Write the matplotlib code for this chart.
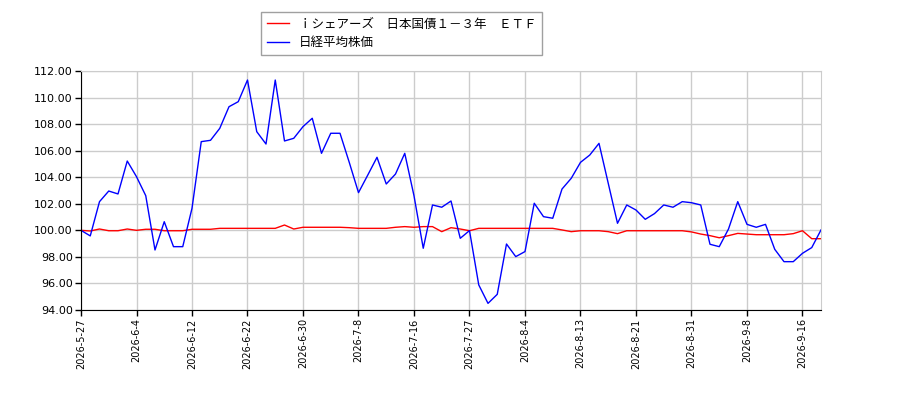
import matplotlib
matplotlib.use("Agg")
import matplotlib.pyplot as plt

dates = ["2026-5-27", "2026-6-4", "2026-6-12", "2026-6-22", "2026-6-30", "2026-7-8",
         "2026-7-16", "2026-7-27", "2026-8-4", "2026-8-13", "2026-8-21", "2026-8-31",
         "2026-9-8", "2026-9-16"]
tick_step = 6

etf = [100.0, 99.95, 100.1, 99.97, 99.97, 100.1, 100.0, 100.08, 100.08, 99.97,
       99.97, 99.97, 100.08, 100.08, 100.08, 100.15, 100.15, 100.15, 100.15, 100.15,
       100.15, 100.15, 100.4, 100.1, 100.23, 100.23, 100.23, 100.23, 100.23, 100.2,
       100.15, 100.15, 100.15, 100.15, 100.23, 100.28, 100.23, 100.28, 100.28, 99.9,
       100.2, 100.1, 99.97, 100.15, 100.15, 100.15, 100.15, 100.15, 100.15, 100.15,
       100.15, 100.15, 100.03, 99.9, 99.97, 99.97, 99.97, 99.9, 99.75, 99.97,
       99.97, 99.97, 99.97, 99.97, 99.97, 99.97, 99.88, 99.72, 99.6, 99.44,
       99.6, 99.77, 99.72, 99.67, 99.67, 99.67, 99.67, 99.75, 99.97, 99.37,
       99.37]

nikkei = [100.0, 99.58, 102.16, 102.96, 102.74, 105.22, 104.04, 102.61, 98.52, 100.65,
          98.77, 98.77, 101.66, 106.68, 106.78, 107.68, 109.31, 109.69, 111.32, 107.43,
          106.5, 111.32, 106.73, 106.93, 107.81, 108.44, 105.8, 107.31, 107.31, 105.12,
          102.84, 104.16, 105.5, 103.49, 104.24, 105.8, 102.6, 98.65, 101.91, 101.74,
          102.21, 99.4, 99.98, 95.89, 94.5, 95.18, 98.97, 98.02, 98.4, 102.04,
          101.03, 100.91, 103.11, 103.92, 105.12, 105.67, 106.55, 103.54, 100.53, 101.91,
          101.53, 100.83, 101.26, 101.91, 101.74, 102.16, 102.08, 101.91, 98.95, 98.77,
          100.1, 102.16, 100.45, 100.23, 100.45, 98.57, 97.64, 97.64, 98.27, 98.7,
          100.03]

labels = ["ｉシェアーズ　日本国債１－３年　ＥＴＦ", "日経平均株価"]

plt.rcParams['font.family'] = ['Noto Sans CJK JP', 'DejaVu Sans']

fig = plt.figure(figsize=(9, 4), dpi=100)
ax = fig.add_axes([81/900, 1-310/400, (821-81)/900, (310-71)/400])

x = list(range(len(nikkei)))
l1, = ax.plot(x, etf, color='red', lw=1)
l2, = ax.plot(x, nikkei, color='blue', lw=1)

ax.set_xlim(0, len(nikkei) - 1)
ax.set_ylim(94, 112)
ax.set_yticks([94 + 2*k for k in range(10)])
ax.set_yticklabels([f"{94 + 2*k:.2f}" for k in range(10)], fontsize=8, family='DejaVu Sans')
ax.set_xticks([i * tick_step for i in range(len(dates))])
ax.set_xticklabels(dates, rotation=90, fontsize=7, family='DejaVu Sans')
ax.grid(True, color='#cccccc', lw=1)
ax.set_axisbelow(True)
for s in ['top', 'right']:
    ax.spines[s].set_color('#cccccc')
ax.tick_params(length=4, width=1, pad=2)

fig.legend([l1, l2], labels, loc='upper left', bbox_to_anchor=(261/900, 1-12/400),
           fontsize=9, frameon=True, fancybox=False, edgecolor='#888888',
           borderaxespad=0, handlelength=1.8, labelspacing=0.45, borderpad=0.45)

fig.savefig("out.png", dpi=100)
